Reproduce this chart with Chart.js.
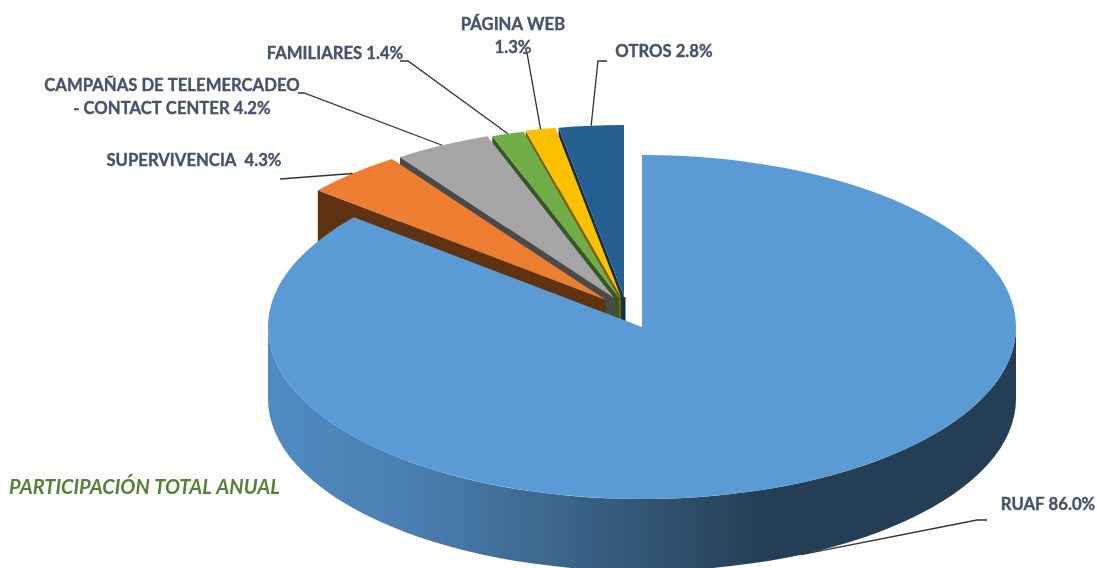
<!DOCTYPE html>
<html>
<head>
<meta charset="utf-8">
<style>html,body{margin:0;padding:0;background:#fff;overflow:hidden}canvas{display:block}</style>
<script src="https://cdn.jsdelivr.net/npm/chart.js@4"></script>
</head>
<body>
<canvas id="c" width="1097" height="568"></canvas>
<script>
// ---- data ----
const categories = ["RUAF", "SUPERVIVENCIA", "CAMPAÑAS DE TELEMERCADEO - CONTACT CENTER", "FAMILIARES", "PÁGINA WEB", "OTROS"];
const values = [86.0, 4.3, 4.2, 1.4, 1.3, 2.8];
const chartCaption = "PARTICIPACIÓN TOTAL ANUAL";
// ---- style ----
const topColors = ["#5B9BD5", "#ED7D31", "#A5A5A5", "#70AD47", "#FFC000", "#255E91"];
const wallColors = ["#243E55", "#5F3211", "#4A4A4A", "#37562A", "#7F6000", "#12304C"];
const labelLines = [["RUAF 86.0%"], ["SUPERVIVENCIA  4.3%"], ["CAMPAÑAS DE TELEMERCADEO", "- CONTACT CENTER 4.2%"], ["FAMILIARES 1.4%"], ["PÁGINA WEB", "1.3%"], ["OTROS 2.8%"]];
const labelCenters = [[1048, 505], [194, 161], [172, 86], [335, 54], [513, 25], [664, 52]];
const labelLineGap = 23;
const leaderElbows = [[[987, 520], [977, 520]], [[280, 179]], [[298, 93], [304, 93]], [[400, 61], [408, 61]], [[523, 53], [527, 53]], [[607, 61], [598, 61]]];
const leaderOnWall = [true, false, false, false, false, false];
const pieCenter = [642, 327], pieRX = 374, pieRY = 172, pieDepth = 72;
const sliceShift = [[0, 0], [-36, -27], [-28, -29], [-23, -29], [-21, -30], [-18, -30]];
const drawOrder = [5, 4, 3, 2, 1, 0];
const wallStops = [[0, "#508AC0"], [0.18, "#4B80B2"], [0.34, "#3F6C95"], [0.58, "#2C4A65"], [0.66, "#243E55"], [1, "#243E55"]];
const labelFont = 'bold 16.7px Lato, sans-serif';
const captionFont = 'italic bold 20px Lato, sans-serif';

function screenPoint(arc, i, angle, radiusFrac, depth) {
  return [pieCenter[0] + sliceShift[i][0] + pieRX * radiusFrac * Math.cos(angle),
          pieCenter[1] + sliceShift[i][1] + pieRY * radiusFrac * Math.sin(angle) + depth];
}
function poly(ctx, pts, fill) {
  ctx.beginPath();
  pts.forEach((p, k) => k ? ctx.lineTo(p[0], p[1]) : ctx.moveTo(p[0], p[1]));
  ctx.closePath();
  ctx.fillStyle = fill;
  ctx.fill();
}
const pie3d = {
  id: 'pie3d',
  beforeDatasetsDraw(chart) {
    const ctx = chart.ctx;
    const arcs = chart.getDatasetMeta(0).data;
    drawOrder.forEach(i => {
      const arc = arcs[i];
      if (i === 0) {
        const cx = pieCenter[0], cy = pieCenter[1];
        const g = ctx.createLinearGradient(cx - pieRX, 0, cx + pieRX, 0);
        wallStops.forEach(s => g.addColorStop(s[0], s[1]));
        ctx.beginPath();
        ctx.ellipse(cx, cy, pieRX, pieRY, 0, 0, Math.PI, false);
        ctx.lineTo(cx - pieRX, cy + pieDepth);
        ctx.ellipse(cx, cy + pieDepth, pieRX, pieRY, 0, Math.PI, 0, true);
        ctx.closePath();
        ctx.fillStyle = g;
        ctx.fill();
      } else {
        const apex = screenPoint(arc, i, 0, 0, 0);
        const outer = screenPoint(arc, i, arc.startAngle, 1, 0);
        poly(ctx, [outer, apex, [apex[0], apex[1] + pieDepth], [outer[0], outer[1] + pieDepth]], wallColors[i]);
        if (i === 5) {
          poly(ctx, [apex, [apex[0] + 1.5, apex[1]], [apex[0] + 1.5, apex[1] + pieDepth], [apex[0], apex[1] + pieDepth]], wallColors[i]);
        }
      }
      ctx.save();
      ctx.translate(pieCenter[0] + sliceShift[i][0], pieCenter[1] + sliceShift[i][1]);
      ctx.scale(pieRX / arc.outerRadius, pieRY / arc.outerRadius);
      ctx.translate(-arc.x, -arc.y);
      arc.draw(ctx);
      ctx.restore();
    });
    // leader lines
    ctx.save();
    ctx.strokeStyle = '#333333';
    ctx.lineWidth = 1.3;
    arcs.forEach((arc, i) => {
      const mid = (arc.startAngle + arc.endAngle) / 2;
      const a = screenPoint(arc, i, mid, 1, leaderOnWall[i] ? pieDepth : 0);
      ctx.beginPath();
      ctx.moveTo(a[0], a[1]);
      leaderElbows[i].slice().reverse().forEach(p => ctx.lineTo(p[0], p[1]));
      ctx.stroke();
    });
    ctx.restore();
    // labels
    ctx.save();
    ctx.font = labelFont;
    ctx.fillStyle = '#44546A';
    ctx.strokeStyle = '#44546A';
    ctx.lineWidth = 0.35;
    ctx.textAlign = 'center';
    ctx.textBaseline = 'middle';
    labelLines.forEach((lines, i) => lines.forEach((t, k) => {
      ctx.fillText(t, labelCenters[i][0], labelCenters[i][1] + k * labelLineGap);
      ctx.strokeText(t, labelCenters[i][0], labelCenters[i][1] + k * labelLineGap);
    }));
    ctx.font = captionFont;
    ctx.fillStyle = '#548235';
    ctx.textAlign = 'left';
    ctx.fillText(chartCaption, 9, 488);
    ctx.restore();
    return false;
  }
};
new Chart(document.getElementById('c'), {
  type: 'pie',
  data: { labels: categories, datasets: [{ data: values, backgroundColor: topColors, borderWidth: 0 }] },
  options: {
    responsive: false,
    animation: false,
    rotation: 0,
    layout: { padding: 0 },
    plugins: { legend: { display: false }, tooltip: { enabled: false } }
  },
  plugins: [pie3d]
});
</script>
</body>
</html>
